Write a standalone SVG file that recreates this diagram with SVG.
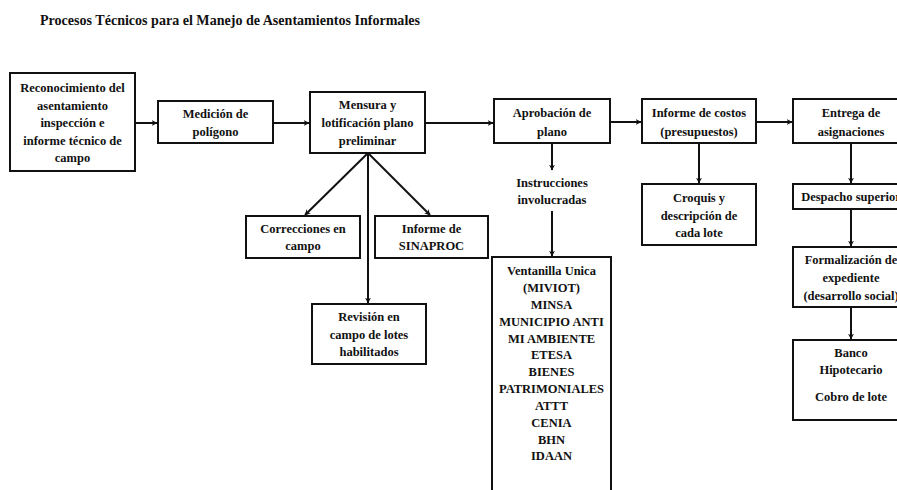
<svg xmlns="http://www.w3.org/2000/svg" width="897" height="490" viewBox="0 0 897 490">
<style>
.box{fill:#fff;stroke:#111;stroke-width:2}
.t{font-family:"Liberation Serif","Times New Roman",serif;font-size:12.5px;font-weight:bold;fill:#111;text-anchor:middle;dominant-baseline:central}
.title{font-family:"Liberation Serif","Times New Roman",serif;font-size:14.5px;font-weight:bold;fill:#111}
.c{stroke:#111;stroke-width:2;fill:none}
</style>
<defs>
<marker id="ah" viewBox="0 0 10 10" refX="9" refY="5" markerWidth="6" markerHeight="6" orient="auto" markerUnits="userSpaceOnUse">
<path d="M0,0 L10,5 L0,10 L3,5 Z" fill="#111"/>
</marker>
</defs>
<rect width="897" height="490" fill="#fff"/>
<text class="title" x="40" y="25" textLength="380" lengthAdjust="spacingAndGlyphs">Procesos Técnicos para el Manejo de Asentamientos Informales</text>

<g id="connectors">
<line class="c" x1="135" y1="123" x2="157" y2="123" marker-end="url(#ah)"/>
<line class="c" x1="273" y1="123" x2="309" y2="123" marker-end="url(#ah)"/>
<line class="c" x1="425" y1="123" x2="493" y2="123" marker-end="url(#ah)"/>
<line class="c" x1="610" y1="122" x2="641" y2="122" marker-end="url(#ah)"/>
<line class="c" x1="756" y1="122" x2="792" y2="122" marker-end="url(#ah)"/>
<line class="c" x1="368" y1="153" x2="305" y2="215" marker-end="url(#ah)"/>
<line class="c" x1="368" y1="153" x2="430" y2="215" marker-end="url(#ah)"/>
<line class="c" x1="368" y1="153" x2="368" y2="303" marker-end="url(#ah)"/>
<line class="c" x1="552" y1="143" x2="552" y2="170" marker-end="url(#ah)"/>
<line class="c" x1="552" y1="211" x2="552" y2="256" marker-end="url(#ah)"/>
<line class="c" x1="699" y1="143" x2="699" y2="183" marker-end="url(#ah)"/>
<line class="c" x1="851" y1="143" x2="851" y2="183" marker-end="url(#ah)"/>
<line class="c" x1="851" y1="209" x2="851" y2="246" marker-end="url(#ah)"/>
<line class="c" x1="851" y1="307" x2="851" y2="339" marker-end="url(#ah)"/>
</g>

<g id="n1"><rect class="box" x="10" y="73" width="125" height="98"/>
<text class="t" x="72.5" y="88">Reconocimiento del</text>
<text class="t" x="72.5" y="105.5">asentamiento</text>
<text class="t" x="72.5" y="123">inspección e</text>
<text class="t" x="72.5" y="140.5">informe técnico de</text>
<text class="t" x="72.5" y="158">campo</text></g>

<g id="n2"><rect class="box" x="158" y="101" width="115" height="42"/>
<text class="t" x="215.5" y="113.5">Medición de</text>
<text class="t" x="215.5" y="131.5">polígono</text></g>

<g id="n3"><rect class="box" x="310" y="92" width="115" height="61"/>
<text class="t" x="367.5" y="105">Mensura y</text>
<text class="t" x="367.5" y="123">lotificación plano</text>
<text class="t" x="367.5" y="141">preliminar</text></g>

<g id="n4"><rect class="box" x="494" y="99" width="116" height="44"/>
<text class="t" x="552" y="113">Aprobación de</text>
<text class="t" x="552" y="132">plano</text></g>

<g id="n5"><rect class="box" x="642" y="99" width="114" height="44"/>
<text class="t" x="699" y="113">Informe de costos</text>
<text class="t" x="699" y="132">(presupuestos)</text></g>

<g id="n6"><rect class="box" x="793" y="99" width="116" height="44"/>
<text class="t" x="851" y="113">Entrega de</text>
<text class="t" x="851" y="132">asignaciones</text></g>

<g id="n7"><rect class="box" x="642" y="184" width="114" height="61"/>
<text class="t" x="699" y="198">Croquis y</text>
<text class="t" x="699" y="216">descripción de</text>
<text class="t" x="699" y="233">cada lote</text></g>

<g id="n8"><rect class="box" x="793" y="184" width="116" height="25"/>
<text class="t" x="851" y="197">Despacho superior</text></g>

<g id="n9"><rect class="box" x="793" y="247" width="116" height="60"/>
<text class="t" x="851" y="260">Formalización de</text>
<text class="t" x="851" y="278">expediente</text>
<text class="t" x="851" y="296">(desarrollo social)</text></g>

<g id="n10"><rect class="box" x="793" y="340" width="116" height="80"/>
<text class="t" x="851" y="353">Banco</text>
<text class="t" x="851" y="370">Hipotecario</text>
<text class="t" x="851" y="397">Cobro de lote</text></g>

<g id="n11"><rect class="box" x="246" y="216" width="114" height="42"/>
<text class="t" x="303" y="229">Correcciones en</text>
<text class="t" x="303" y="246">campo</text></g>

<g id="n12"><rect class="box" x="375" y="216" width="113" height="42"/>
<text class="t" x="431.5" y="229">Informe de</text>
<text class="t" x="431.5" y="246">SINAPROC</text></g>

<g id="n13"><rect class="box" x="312" y="304" width="114" height="60"/>
<text class="t" x="369" y="317">Revisión en</text>
<text class="t" x="369" y="335">campo de lotes</text>
<text class="t" x="369" y="352">habilitados</text></g>

<g id="n14">
<text class="t" x="552" y="183">Instrucciones</text>
<text class="t" x="552" y="200">involucradas</text></g>

<g id="n15"><rect class="box" x="492" y="257" width="119" height="245"/>
<text class="t" x="551.5" y="271">Ventanilla Unica</text>
<text class="t" x="551.5" y="288">(MIVIOT)</text>
<text class="t" x="551.5" y="305">MINSA</text>
<text class="t" x="551.5" y="322">MUNICIPIO ANTI</text>
<text class="t" x="551.5" y="339">MI AMBIENTE</text>
<text class="t" x="551.5" y="355">ETESA</text>
<text class="t" x="551.5" y="372">BIENES</text>
<text class="t" x="551.5" y="389">PATRIMONIALES</text>
<text class="t" x="551.5" y="406">ATTT</text>
<text class="t" x="551.5" y="423">CENIA</text>
<text class="t" x="551.5" y="440">BHN</text>
<text class="t" x="551.5" y="456">IDAAN</text></g>
</svg>
